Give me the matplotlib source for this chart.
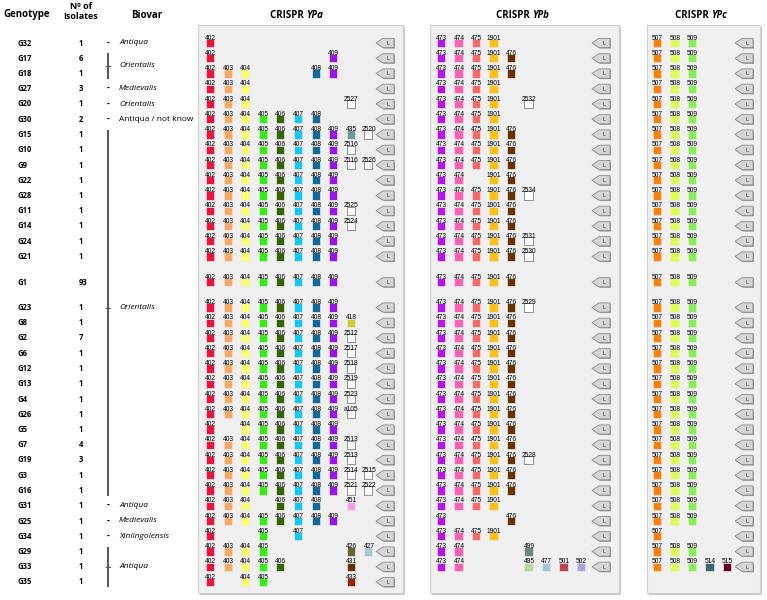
import matplotlib
matplotlib.use("Agg")
import matplotlib.pyplot as plt
from matplotlib.patches import Rectangle, Polygon

# ---- data ----
genotypes = ["G32", "G17", "G18", "G27", "G20", "G30", "G15", "G10", "G9", "G22",
             "G28", "G11", "G14", "G24", "G21", "G1", "G23", "G8", "G2", "G6",
             "G12", "G13", "G4", "G26", "G5", "G7", "G19", "G3", "G16", "G31",
             "G25", "G34", "G29", "G33", "G35"]
isolates = [1, 6, 1, 3, 1, 2, 1, 1, 1, 1,
            1, 1, 1, 1, 1, 93, 1, 1, 7, 1,
            1, 1, 1, 1, 1, 4, 3, 1, 1, 1,
            1, 1, 1, 1, 1]

# single-row biovar labels: (row index, label, italic)
biovar_single = [(0, "Antiqua", True), (3, "Medievalis", True), (4, "Orientalis", True),
                 (5, "Antiqua / not know", False), (29, "Antiqua", True),
                 (30, "Medievalis", True), (31, "Xinlingolensis", True)]
# bracketed biovar groups: (first row, last row, label row, label)
biovar_groups = [(1, 2, 1.5, "Orientalis"), (6, 28, 16, "Orientalis"), (32, 34, 33, "Antiqua")]

ypa_core = ["402", "403", "404", "405", "406", "407", "408", "409"]
ypa = [
    "402",
    "402 409",
    "402 403 404 408 409",
    "402 403 404",
    "402 403 404 2527",
    "402 403 404 405 406 407 408",
    "402 403 404 405 406 407 408 409 435 2520",
    "402 403 404 405 406 407 408 409 2516",
    "402 403 404 405 406 407 408 409 2516 2526",
    "402 403 404 405 406 407 408 409",
    "402 403 404 405 406 407 408 409",
    "402 403 404 405 406 407 408 409 2525",
    "402 403 404 405 406 407 408 409 2524",
    "402 403 404 405 406 407 408 409",
    "402 403 404 405 406 407 408 409",
    "402 403 404 405 406 407 408 409",
    "402 403 404 405 406 407 408 409",
    "402 403 404 405 406 407 408 409 418",
    "402 403 404 405 406 407 408 409 2512",
    "402 403 404 405 406 407 408 409 2517",
    "402 403 404 405 406 407 408 409 2518",
    "402 403 404 405 406 407 408 409 2519",
    "402 403 404 405 406 407 408 409 2523",
    "402 403 404 405 406 407 408 409 a105",
    "402 404 405 406 407 408 409",
    "402 403 404 405 406 407 408 409 2513",
    "402 403 404 405 406 407 408 409 2513",
    "402 403 404 405 406 407 408 409 2514 2515",
    "402 403 404 405 406 407 408 409 2521 2522",
    "402 403 404 406 407 408 451",
    "402 403 404 405 406 407 408 409",
    "402 405 407",
    "402 403 404 405 426 427",
    "402 403 404 405 406 431",
    "402 404 405 433",
]

ypb_core = ["473", "474", "475", "1901", "476"]
ypb = [
    "473 474 475 1901",
    "473 474 475 1901 476",
    "473 474 475 1901 476",
    "473 474 475 1901",
    "473 474 475 1901 2532",
    "473 474 475 1901",
    "473 474 475 1901 476",
    "473 474 475 1901 476",
    "473 474 475 1901 476",
    "473 474 1901 476",
    "473 474 475 1901 476 2534",
    "473 474 475 1901 476",
    "473 474 475 1901 476",
    "473 474 475 1901 476 2531",
    "473 474 475 1901 476 2530",
    "473 474 475 1901 476",
    "473 474 475 1901 476 2529",
    "473 474 475 1901 476",
    "473 474 475 1901 476",
    "473 474 475 1901 476",
    "473 474 475 1901 476",
    "473 474 475 1901 476",
    "473 474 475 1901 476",
    "473 474 475 1901 476",
    "473 474 475 1901 476",
    "473 474 475 1901 476",
    "473 474 475 1901 476 2528",
    "473 474 475 1901 476",
    "473 474 475 1901 476",
    "473 474 475 1901",
    "473 476",
    "473 474 475 1901",
    "473 474 499",
    "473 474 495 477 501 502",
    "",
]

ypc_core = ["507", "508", "509"]
ypc = [
    "507 508 509", "507 508 509", "507 508 509", "507 508 509", "507 508 509",
    "507 508 509", "507 508 509", "507 508 509", "507 508 509", "507 508 509",
    "507 508 509", "507 508 509", "507 508 509", "507 508 509", "507 508 509",
    "507 508 509", "507 508 509", "507 508 509", "507 508 509", "507 508 509",
    "507 508 509", "507 508 509", "507 508 509", "507 508 509", "507 508 509",
    "507 508 509", "507 508 509", "507 508 509", "507 508 509", "507 508 509",
    "507 508 509",
    "507",
    "507 508 509",
    "507 508 509 514 515",
    "",
]

spacer_colors = {
    "402": "#f0103c", "403": "#f8a860", "404": "#ffff66", "405": "#33ee11",
    "406": "#336600", "407": "#11c8f8", "408": "#0f6a99", "409": "#9a11f0",
    "435": "#6a9a9a", "418": "#cccc33", "451": "#ff99f0", "426": "#666633",
    "427": "#a8c8cc", "431": "#663300", "433": "#992200",
    "473": "#bb11ee", "474": "#ff5fb0", "475": "#ff6666", "1901": "#ffc010",
    "476": "#663300", "499": "#6a8a80", "495": "#b8d8a0", "477": "#a0c4dc",
    "501": "#bb4455", "502": "#a8a0e0",
    "507": "#ff8000", "508": "#dfff50", "509": "#88ee55", "514": "#336677",
    "515": "#660022",
}

# ---- layout (pixel coordinates) ----
W, H = 767, 600
LABEL_FONT = ["Open Sans", "DejaVu Sans"]
SPACER_FONT = ["Liberation Sans", "DejaVu Sans"]


def row_y(i):
    y = 43 + 15.25 * i
    if i >= 15:
        y += 10.5
    if i >= 16:
        y += 10
    return y


panels = [
    # title, rows, core, first col x, col step, arrow tip x, box (x0, x1), title split x
    ("YPa", ypa, ypa_core, 210, 17.6, 376, (198, 403), 306),
    ("YPb", ypb, ypb_core, 441, 17.5, 592, (430, 619), 532),
    ("YPc", ypc, ypc_core, 657, 17.5, 735, (647, 760), 711),
]

fig = plt.figure(figsize=(W / 100, H / 100), dpi=100)
ax = fig.add_axes([0, 0, 1, 1])
ax.set_xlim(0, W)
ax.set_ylim(H, 0)
ax.axis("off")

# headers
ax.text(3, 15, "Genotype", fontsize=7, fontweight="bold", family=LABEL_FONT, va="center")
ax.text(81, 6.5, "Nº of", fontsize=6.5, fontweight="bold", family=LABEL_FONT, ha="center", va="center")
ax.text(81, 16.5, "Isolates", fontsize=6.5, fontweight="bold", family=LABEL_FONT, ha="center", va="center")
ax.text(147, 15, "Biovar", fontsize=7, fontweight="bold", family=LABEL_FONT, ha="center", va="center")

for i, (g, n) in enumerate(zip(genotypes, isolates)):
    y = row_y(i)
    ax.text(17, y, g, fontsize=5.5, fontweight="bold", family=LABEL_FONT, va="center")
    ax.text(79, y, str(n), fontsize=5.5, fontweight="bold", family=LABEL_FONT, va="center")

for i, label, italic in biovar_single:
    y = row_y(i)
    ax.text(108, y, "-", fontsize=6, fontweight="bold", family=LABEL_FONT, ha="center", va="center")
    ax.text(119, y, label, fontsize=6, family=LABEL_FONT, va="center",
            style="italic" if italic else "normal")

for first, last, lab_row, label in biovar_groups:
    if lab_row == int(lab_row):
        ly = row_y(int(lab_row))
    else:
        ly = (row_y(first) + row_y(last)) / 2
    ax.plot([108, 108], [row_y(first) - 5, row_y(last) + 5], color="#555555", lw=1.4,
            solid_capstyle="butt")
    ax.plot([106, 110], [ly, ly], color="#555555", lw=0.8)
    ax.text(119, ly, label, fontsize=6, family=LABEL_FONT, va="center", style="italic")

# CRISPR panels
for name, rows, core, cx0, cstep, tip, (bx0, bx1), split in panels:
    ax.add_patch(Rectangle((bx0 + 2, 27), bx1 - bx0, 568, facecolor="#c8c8c8",
                           edgecolor="none", zorder=0))
    ax.add_patch(Rectangle((bx0, 25), bx1 - bx0, 568, facecolor="#f0f0f0",
                           edgecolor="#d0d0d0", lw=0.8, zorder=1))
    ax.text(split, 15, "CRISPR ", fontsize=7, fontweight="bold", family=LABEL_FONT,
            ha="right", va="center")
    ax.text(split, 15, name, fontsize=7, fontweight="bold", style="italic",
            family=LABEL_FONT, ha="left", va="center")

    xs, ys, fcs, ecs = [], [], [], []
    for i, row in enumerate(rows):
        ids = row.split()
        if not ids:
            continue
        y = row_y(i)
        extra = 0
        for sid in ids:
            if sid in core:
                col = core.index(sid)
            else:
                col = len(core) + extra
                extra += 1
            x = cx0 + col * cstep
            xs.append(x)
            ys.append(y)
            if sid in spacer_colors:
                fcs.append(spacer_colors[sid])
                ecs.append("#e8e8e8")
            else:
                fcs.append("white")
                ecs.append("#666666")
            ax.text(x + 0.5, y - 3.3, sid, fontsize=4.8, family=SPACER_FONT,
                    ha="center", va="baseline", zorder=4)
        # leader arrow
        hw = 4.6
        pts = [(tip, y), (tip + 7, y - hw), (tip + 18, y - hw), (tip + 18, y + hw), (tip + 7, y + hw)]
        shadow = [(px + 1, py + 1) for px, py in pts]
        ax.add_patch(Polygon(shadow, closed=True, facecolor="#9a9a9a", edgecolor="none", zorder=2))
        ax.add_patch(Polygon(pts, closed=True, facecolor="#d6d6d6", edgecolor="#8a8a8a",
                             lw=0.6, zorder=3))
        ax.text(tip + 12.5, y + 0.3, "L", fontsize=4, family=SPACER_FONT, color="#333333",
                ha="center", va="center", zorder=4)
    ax.scatter(xs, ys, s=34, marker="s", c=fcs, edgecolors=ecs, linewidths=0.5, zorder=3)

fig.savefig("out.png", dpi=100)
